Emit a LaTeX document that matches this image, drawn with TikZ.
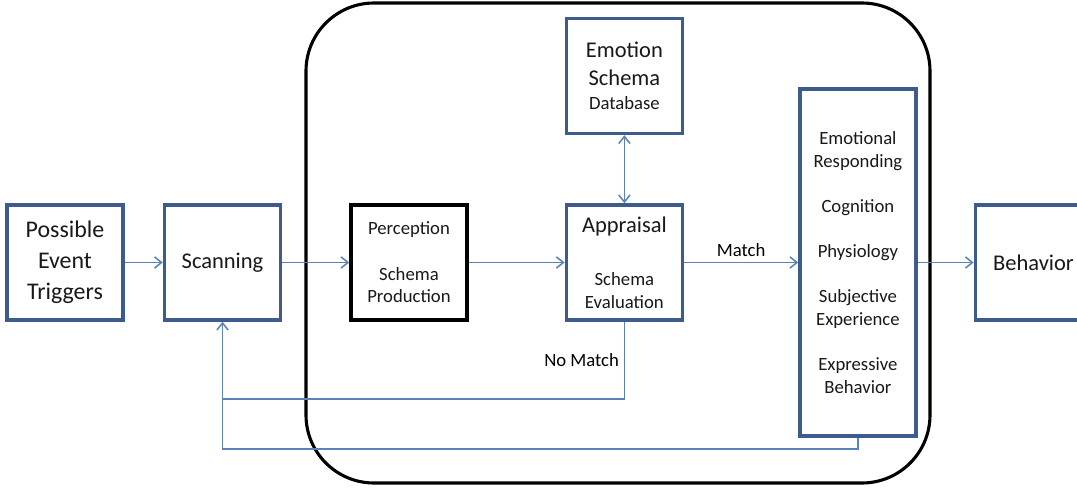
\documentclass[tikz,border=0pt]{standalone}
\usepackage{fontspec}
\setmainfont{Carlito}
\usetikzlibrary{arrows.meta, positioning}

\definecolor{boxblue}{HTML}{3D5B8C}
\definecolor{lineblue}{HTML}{5B82BA}

\newcommand{\bigtxt}{\fontsize{16}{20}\selectfont}
\newcommand{\smalltxt}{\fontsize{13.3}{16.2}\selectfont}

\begin{document}
\begin{tikzpicture}[node distance=1cm, >={Straight Barb[length=5pt, width=8pt]},
  box/.style={draw=boxblue, line width=2.5pt, fill=white, minimum width=2.9cm, minimum height=2.875cm, align=center, inner sep=2pt, text=black!90},
  flow/.style={draw=lineblue, line width=1.1pt},
  frame/.style={draw=black, line width=2.2pt, rounded corners=1.7cm}]
  \useasboundingbox (-1.625,-5.6125) rectangle (25.3,6.5625);

  % Outer frame around the inner processing stages
  \draw[frame] (6.025,-5.5125) rectangle (21.625,6.4875);

  % Main chain, left to right
  \node[box, font={\fontsize{17}{22}\selectfont}] (trig) {Possible\\Event\\Triggers};
  \node[box, right=0.95cm of trig, font=\bigtxt] (scan) {Scanning};
  \node[box, right=1.675cm of scan, draw=black, line width=2.4pt, font=\smalltxt] (perc) {Perception\\[16pt]Schema\\Production};
  \node[box, right=2.4cm of perc, font=\smalltxt] (appr) {{\bigtxt Appraisal}\\[22pt]Schema\\Evaluation};
  \node[box, above=1.7cm of appr, font=\bigtxt] (emo) {Emotion\\Schema\\[-3pt]{\smalltxt Database}};
  \node[box, right=2.85cm of appr, minimum height=8.675cm, font=\smalltxt] (resp) {Emotional\\Responding\\[16pt]Cognition\\[16pt]Physiology\\[16pt]Subjective\\Experience\\[16pt]Expressive\\Behavior};
  \node[box, right=1.4cm of resp, font=\bigtxt] (behav) {Behavior};

  % Connections
  \draw[flow, ->] (trig) -- (scan);
  \draw[flow, ->] (scan) -- (perc);
  \draw[flow, ->] (perc) -- (appr);
  \draw[flow, <->] (emo) -- (appr);
  \draw[flow, ->] (appr) -- node[above, font=\smalltxt]{Match} (resp);
  \draw[flow, ->] (resp) -- (behav);

  % Feedback back to scanning
  \draw[flow] (appr.south) -- node[left, font=\smalltxt]{No Match} ++(0,-1.925) coordinate (nm) -- (nm -| scan.south);
  \draw[flow, ->] (resp.south) -- ++(0,-0.275) -| (scan.south);
\end{tikzpicture}
\end{document}
